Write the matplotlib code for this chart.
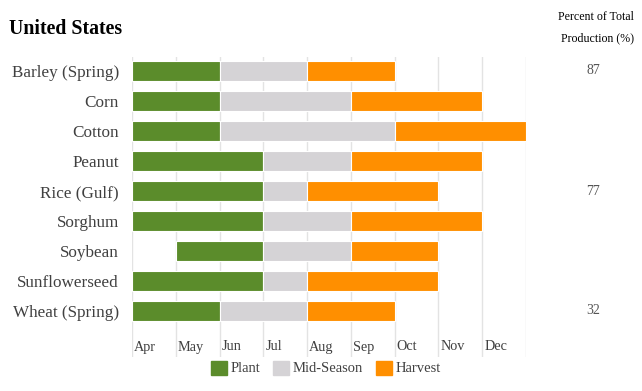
import numpy as np
import matplotlib.pyplot as plt
from matplotlib.patches import Patch

plt.rcParams['font.family'] = ['Liberation Serif', 'DejaVu Serif']

# crop calendar, months counted from April (0 = start of Apr)
crops = ["Barley (Spring)", "Corn", "Cotton", "Peanut", "Rice (Gulf)",
         "Sorghum", "Soybean", "Sunflowerseed", "Wheat (Spring)"]
plant_start = [0, 0, 0, 0, 0, 0, 1, 0, 0]
plant_end = [2, 2, 2, 3, 3, 3, 3, 3, 2]
mid_end = [4, 5, 6, 5, 4, 5, 5, 4, 4]
harvest_end = [6, 8, 9, 8, 7, 8, 7, 7, 6]
share = ["87", "", "", "", "77", "", "", "", "32"]
months = ["Apr", "May", "Jun", "Jul", "Aug", "Sep", "Oct", "Nov", "Dec"]

c_plant = "#5b8c2b"
c_mid = "#d5d3d6"
c_harv = "#ff8f00"

W, H = 642, 391
fig = plt.figure(figsize=(W / 100, H / 100), dpi=100)
ax = fig.add_axes([132 / W, 1 - 357 / H, (526 - 132) / W, (357 - 57) / H])

y = np.arange(len(crops))
ps = np.array(plant_start)
pe = np.array(plant_end)
me = np.array(mid_end)
he = np.array(harvest_end)
kw = dict(height=0.67, edgecolor="white", linewidth=0.8, zorder=3)
ax.barh(y, pe - ps, left=ps, color=c_plant, **kw)
ax.barh(y, me - pe, left=pe, color=c_mid, **kw)
ax.barh(y, he - me, left=me, color=c_harv, **kw)

ax.set_xlim(0, 9)
ax.set_ylim((357 - 71) / 30, (57 - 71) / 30)
ax.set_xticks(np.arange(10))
ax.set_xticklabels([])
ax.tick_params(axis="x", length=0)
ax.grid(axis="x", color="#e3e3e3", linewidth=1, zorder=0)
for s in ax.spines.values():
    s.set_visible(False)
ax.set_yticks(y)
ax.set_yticklabels(crops, fontsize=12.3, color="#404040")
ax.tick_params(axis="y", length=0, pad=9.5)

for i, m in enumerate(months):
    ax.text(i + 0.05, (347 - 71) / 30, m, fontsize=10.3, color="#404040",
            ha="left", va="center")

for i, v in enumerate(share):
    if v:
        fig.text(593 / W, 1 - (71 + 30 * i) / H, v, fontsize=10,
                 color="#555555", ha="center", va="center")

fig.text(9 / W, 1 - 29 / H, "United States", fontsize=14.3,
         fontweight="bold", ha="left", va="center")
fig.text(634 / W, 1 - 17 / H, "Percent of Total", fontsize=8.6,
         ha="right", va="center")
fig.text(634 / W, 1 - 38 / H, "Production (%)", fontsize=8.6,
         ha="right", va="center")

handles = [Patch(color=c_plant, label="Plant"),
           Patch(color=c_mid, label="Mid-Season"),
           Patch(color=c_harv, label="Harvest")]
leg = fig.legend(handles=handles, loc="center", ncol=3,
                 bbox_to_anchor=(326 / W, 1 - 368 / H), frameon=False,
                 fontsize=10.5, handlelength=1.1, handleheight=1.1,
                 handletextpad=0.25, columnspacing=0.9, borderpad=0)
for t in leg.get_texts():
    t.set_color("#404040")

fig.savefig("out.png", dpi=100)
